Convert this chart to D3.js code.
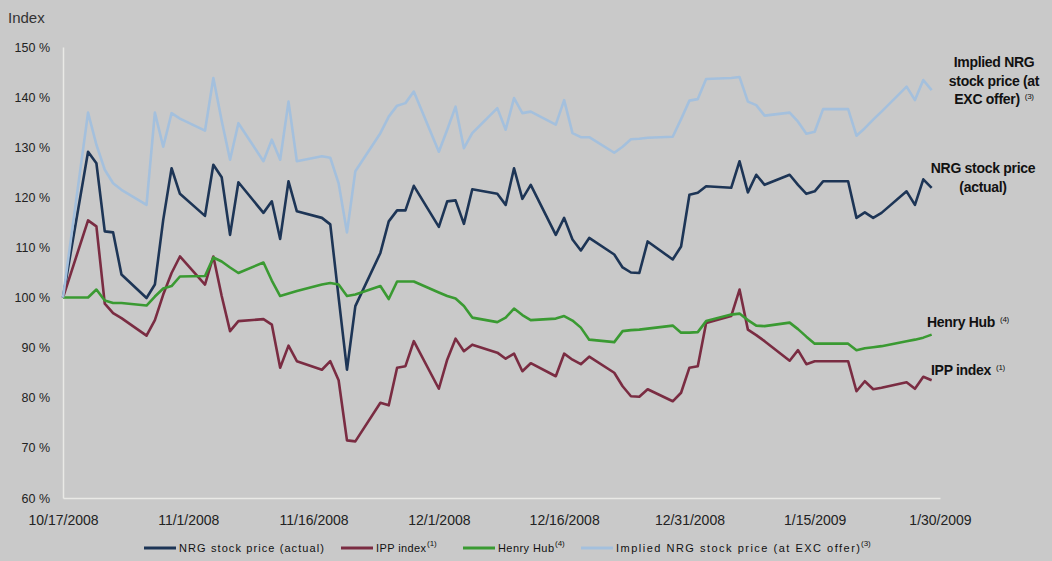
<!DOCTYPE html>
<html>
<head>
<meta charset="utf-8">
<script src="https://cdn.jsdelivr.net/npm/d3@7/dist/d3.min.js"></script>
<style>
body { margin: 0; background: #c9c9c9; }
svg { display: block; font-family: "Liberation Sans", Arial, sans-serif; }
</style>
</head>
<body>
<svg width="1052" height="561"></svg>
<script>
// trading days (holidays carried with the previous value)
var dates = [
  "2008-10-17","2008-10-20","2008-10-21","2008-10-22","2008-10-23","2008-10-24",
  "2008-10-27","2008-10-28","2008-10-29","2008-10-30","2008-10-31",
  "2008-11-03","2008-11-04","2008-11-05","2008-11-06","2008-11-07",
  "2008-11-10","2008-11-11","2008-11-12","2008-11-13","2008-11-14",
  "2008-11-17","2008-11-18","2008-11-19","2008-11-20","2008-11-21",
  "2008-11-24","2008-11-25","2008-11-26","2008-11-27","2008-11-28",
  "2008-12-01","2008-12-02","2008-12-03","2008-12-04","2008-12-05",
  "2008-12-08","2008-12-09","2008-12-10","2008-12-11","2008-12-12",
  "2008-12-15","2008-12-16","2008-12-17","2008-12-18","2008-12-19",
  "2008-12-22","2008-12-23","2008-12-24","2008-12-25","2008-12-26",
  "2008-12-29","2008-12-30","2008-12-31","2009-01-01","2009-01-02",
  "2009-01-05","2009-01-06","2009-01-07","2009-01-08","2009-01-09",
  "2009-01-12","2009-01-13","2009-01-14","2009-01-15","2009-01-16",
  "2009-01-19","2009-01-20","2009-01-21","2009-01-22","2009-01-23",
  "2009-01-26","2009-01-27","2009-01-28","2009-01-29"
];

var nrgActual = [
  100, 129.1, 126.8, 113.2, 113.0, 104.6,
  99.9, 102.6, 115.5, 125.8, 120.7,
  116.3, 126.5, 124.0, 112.5, 123.0,
  116.9, 119.2, 111.7, 123.2, 117.2,
  115.9, 114.6, 100.0, 85.6, 98.3,
  108.9, 115.2, 117.4, 117.4, 122.3,
  114.1, 119.2, 119.4, 114.7, 121.6,
  120.7, 118.5, 125.8, 119.7, 122.5,
  112.5, 115.9, 111.6, 109.4, 111.9,
  108.6, 106.0, 105.0, 104.9, 111.2,
  107.6, 110.2, 120.5, 120.9, 122.2,
  121.9, 127.2, 121.0, 124.5, 122.5,
  124.5, 122.5, 120.7, 121.2, 123.2,
  123.2, 115.9, 117.0, 115.9, 116.9,
  121.2, 118.5, 123.6, 121.9
];

var ippIndex = [
  100, 115.4, 114.2, 98.8, 96.9, 95.9,
  92.4, 95.5, 100.6, 104.9, 108.2,
  102.6, 108.2, 100.3, 93.3, 95.3,
  95.7, 94.6, 86.0, 90.4, 87.3,
  85.6, 87.3, 83.5, 71.5, 71.3,
  79.0, 78.5, 86.0, 86.3, 91.3,
  81.8, 87.6, 91.8, 89.3, 90.6,
  89.0, 87.8, 88.8, 85.3, 86.9,
  84.3, 88.8, 87.6, 86.7, 88.2,
  85.0, 82.3, 80.3, 80.2, 81.7,
  79.3, 81.0, 86.0, 86.3, 94.9,
  96.3, 101.6, 93.6, 92.5, 91.3,
  87.4, 89.5, 86.7, 87.3, 87.3,
  87.3, 81.3, 83.3, 81.7, 82.0,
  83.1, 81.8, 84.2, 83.5
];

var henryHub = [
  100, 100, 101.6, 99.4, 98.9, 98.9,
  98.4, 100.2, 101.8, 102.3, 104.2,
  104.3, 108.0, 107.2, 106.0, 104.9,
  107.0, 103.4, 100.3, 100.8, 101.3,
  102.6, 102.9, 102.6, 100.3, 100.6,
  102.3, 99.7, 103.2, 103.2, 103.2,
  101.0, 100.3, 99.8, 98.3, 96.0,
  95.1, 96.0, 97.8, 96.5, 95.5,
  95.8, 96.3, 95.4, 94.0, 91.6,
  91.1, 93.3, 93.5, 93.6, 93.8,
  94.4, 93.0, 93.0, 93.1, 95.3,
  96.6, 96.8, 95.5, 94.4, 94.3,
  95.0, 93.7, 92.2, 90.8, 90.8,
  90.8, 89.5, 89.9, 90.1, 90.3,
  91.3, 91.6, 92.0, 92.6
];

var impliedNrg = [
  100, 136.9, 130.5, 125.5, 122.8, 121.5,
  118.5, 136.9, 130.1, 136.8, 135.7,
  133.3, 143.8, 135.3, 127.5, 134.8,
  127.2, 131.5, 127.5, 139.1, 127.2,
  128.2, 127.9, 122.8, 113.0, 125.2,
  132.8, 136.1, 138.3, 138.8, 141.1,
  129.1, 133.5, 138.1, 129.8, 132.8,
  137.8, 133.5, 139.8, 136.8, 137.1,
  134.5, 139.4, 132.8, 132.0, 132.0,
  128.9, 130.1, 131.6, 131.7, 131.9,
  132.1, 135.6, 139.3, 139.6, 143.6,
  143.8, 144.0, 139.1, 138.4, 136.3,
  136.9, 135.1, 132.7, 133.1, 137.6,
  137.6, 132.3, 133.8, 135.5, 137.1,
  142.1, 139.4, 143.4, 141.4
];

var yTicks = [60, 70, 80, 90, 100, 110, 120, 130, 140, 150];
var xTicks = ["2008-10-17","2008-11-01","2008-11-16","2008-12-01",
              "2008-12-16","2008-12-31","2009-01-15","2009-01-30"];

var seriesNames = ["NRG stock price (actual)", "IPP index", "Henry Hub",
                   "Implied NRG stock price (at EXC offer)"];
var seriesNotes = ["", "(1)", "(4)", "(3)"];
var seriesColors = ["#1d3556", "#7a2c42", "#3a9a32", "#a4c0dd"];

var parse = d3.timeParse("%Y-%m-%d");
var fmt = d3.timeFormat("%-m/%-d/%Y");

var svg = d3.select("svg"),
    margin = {top: 47, left: 63},
    width = 877,
    height = 451;

var x = d3.scaleTime()
    .domain([parse(xTicks[0]), parse(xTicks[xTicks.length - 1])])
    .range([0, width]);
var y = d3.scaleLinear().domain([60, 150]).range([height, 0]);

var g = svg.append("g")
    .attr("transform", "translate(" + margin.left + "," + margin.top + ")");

// X axis
var xAxis = g.append("g")
    .attr("transform", "translate(0," + height + ")")
    .call(d3.axisBottom(x).tickValues(xTicks.map(parse)).tickFormat(fmt)
        .tickSize(0).tickPadding(17));
xAxis.select(".domain").attr("stroke", "#e9e9e6").attr("stroke-width", 1.5);
xAxis.selectAll("text").attr("font-size", "14px").attr("fill", "#222")
    .attr("font-family", "Liberation Sans, Arial, sans-serif");

// Y axis
var yAxis = g.append("g")
    .call(d3.axisLeft(y).tickValues(yTicks).tickFormat(function(d) { return d + " %"; })
        .tickSize(0).tickPadding(13));
yAxis.select(".domain").attr("stroke", "#e9e9e6").attr("stroke-width", 1.5);
yAxis.selectAll("text").attr("font-size", "12.5px").attr("fill", "#222")
    .attr("font-family", "Liberation Sans, Arial, sans-serif");

svg.append("text")
    .attr("x", 8).attr("y", 23)
    .attr("font-size", "15px").attr("fill", "#333")
    .text("Index");

// lines
var allSeries = [nrgActual, ippIndex, henryHub, impliedNrg];
var line = d3.line()
    .x(function(d) { return x(d.date); })
    .y(function(d) { return y(d.v); });

allSeries.forEach(function(vals, i) {
    var pts = dates.map(function(d, j) { return {date: parse(d), v: vals[j]}; });
    g.append("path")
        .datum(pts)
        .attr("fill", "none")
        .attr("stroke", seriesColors[i])
        .attr("stroke-width", 2.6)
        .attr("stroke-linejoin", "round")
        .attr("d", line);
});

// right-hand labels
function label(lines, cx, y0, note, anchor) {
    var t = svg.append("text")
        .attr("font-size", "14px").attr("font-weight", "bold")
        .attr("fill", "#111").attr("text-anchor", anchor || "middle")
        .attr("letter-spacing", "-0.3");
    lines.forEach(function(s, k) {
        t.append("tspan").attr("x", cx).attr("y", y0 + k * 18.5).text(s);
        if (k === lines.length - 1 && note) {
            t.append("tspan").attr("dx", 5).attr("dy", -5)
                .attr("font-size", "8px").attr("font-weight", "normal").text(note);
        }
    });
}
label(["Implied NRG", "stock price (at", "EXC offer)"], 994, 67, "(3)");
label(["NRG stock price", "(actual)"], 983, 173, "");
label(["Henry Hub"], 927, 327, "(4)", "start");
label(["IPP index"], 931, 375, "(1)", "start");

// legend
var legendX = [144, 341, 463, 581];
var legendLen = [145, 50, 56, 244];
var legend = svg.append("g").attr("transform", "translate(0,548)");
seriesNames.forEach(function(name, i) {
    var lg = legend.append("g").attr("transform", "translate(" + legendX[i] + ",0)");
    lg.append("line").attr("x1", 0).attr("x2", 32).attr("y1", 0).attr("y2", 0)
        .attr("stroke", seriesColors[i]).attr("stroke-width", 3);
    lg.append("text").attr("x", 35).attr("y", 4)
        .attr("font-size", "11px").attr("fill", "#111")
        .attr("textLength", legendLen[i]).attr("lengthAdjust", "spacing")
        .text(name);
    if (seriesNotes[i]) {
        lg.append("text").attr("x", 36 + legendLen[i]).attr("y", -2)
            .attr("font-size", "8px").attr("fill", "#111").text(seriesNotes[i]);
    }
});
</script>
</body>
</html>
